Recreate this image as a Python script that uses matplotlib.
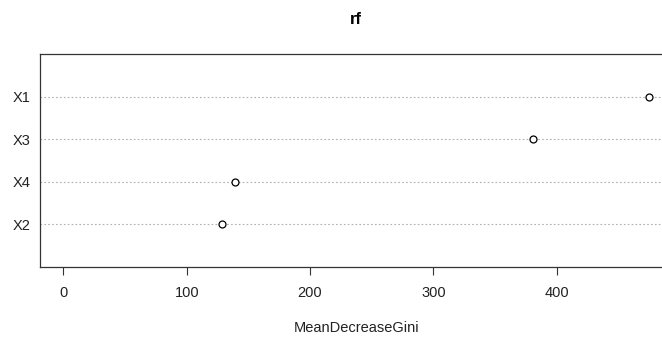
import matplotlib
matplotlib.use("Agg")
from matplotlib import pyplot as plt

plt.rcParams['font.family'] = ['Liberation Sans', 'DejaVu Sans']

# variable importance, bottom to top as drawn
variables = ["X2", "X4", "X3", "X1"]
gini = [128.5, 139.1, 380.8, 475.0]
xticks = [0, 100, 200, 300, 400]

W, H = 662, 339
fig = plt.figure(figsize=(W / 100, H / 100), dpi=100)
# plot box runs past the right edge of the image, as in the original
ax = fig.add_axes([40 / W, 72 / H, 632.6 / W, 213 / H])

pos = list(range(1, len(variables) + 1))
for p in pos:
    ax.axhline(p, color="#b0b0b0", linestyle=(0, (1.5, 2)), linewidth=0.8, zorder=1)
ax.plot(gini, pos, linestyle="none", marker="o", markersize=5,
        markerfacecolor="white", markeredgecolor="black", markeredgewidth=0.9, zorder=3)

xmax = max(gini)
ax.set_xlim(-0.04 * xmax, 1.04 * xmax)
ax.set_ylim(0, len(variables) + 1)
ax.set_xticks(xticks)
ax.set_xticklabels([str(t) for t in xticks], fontsize=10.5, color="#222222")
ax.set_yticks(pos)
ax.set_yticklabels(variables, fontsize=10.5, color="#222222")
ax.tick_params(axis="x", direction="out", length=6, width=0.8, pad=8, color="#333333")
ax.tick_params(axis="y", length=0, pad=7)
for s in ax.spines.values():
    s.set_linewidth(0.9)
    s.set_color("#333333")
ax.spines["right"].set_visible(False)

cx = (40 + 672.6) / 2 / W
fig.text(cx, 1 - 19 / H, "rf", ha="center", va="center", fontsize=12, fontweight="bold")
fig.text(cx, 1 - 328 / H, "MeanDecreaseGini", ha="center", va="center", fontsize=10.5, color="#222222")

fig.savefig("out.png", dpi=100)
